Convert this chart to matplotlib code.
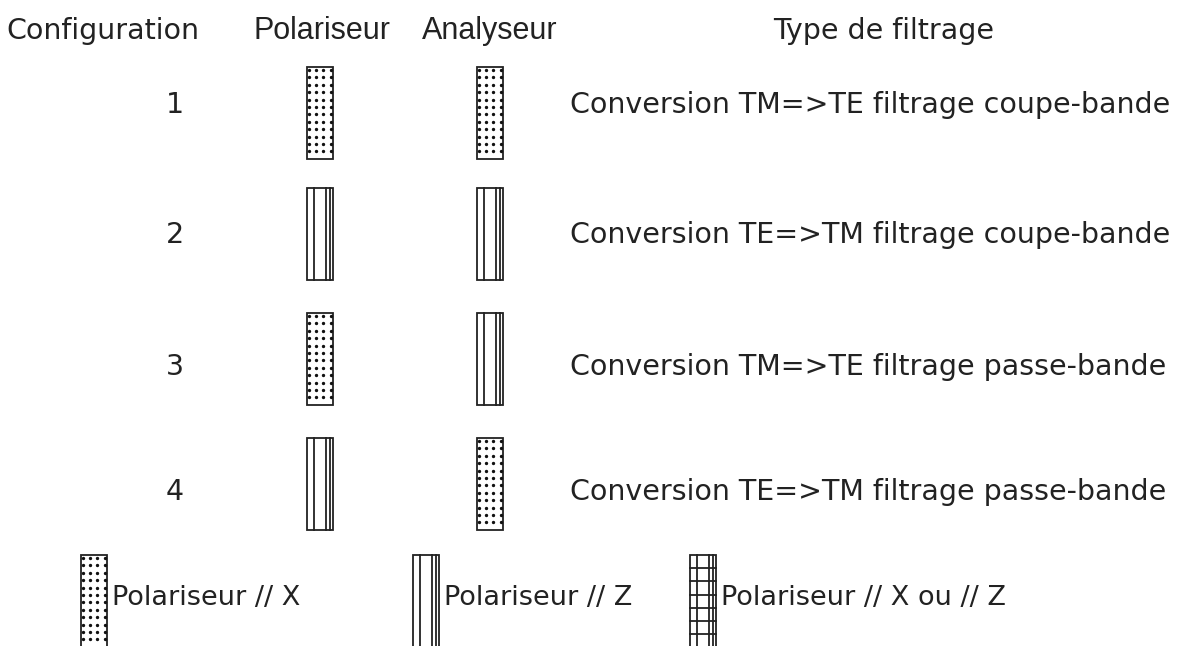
import matplotlib
matplotlib.use("Agg")
from matplotlib import pyplot as plt
from matplotlib.patches import Rectangle

plt.rcParams['font.family'] = ['DejaVu Sans']

# table content
headers = ["Configuration", "Polariseur", "Analyseur", "Type de filtrage"]
config_ids = ["1", "2", "3", "4"]
polariser = ["X", "Z", "X", "Z"]
analyser = ["X", "Z", "Z", "X"]
filtering = [
    "Conversion TM=>TE filtrage coupe-bande",
    "Conversion TE=>TM filtrage coupe-bande",
    "Conversion TM=>TE filtrage passe-bande",
    "Conversion TE=>TM filtrage passe-bande",
]
legend_kinds = ["X", "Z", "XZ"]
legend_labels = ["Polariseur // X", "Polariseur // Z", "Polariseur // X ou // Z"]

W, H = 1179, 646
fig = plt.figure(figsize=(W / 100, H / 100), dpi=100)
ax = fig.add_axes([0, 0, 1, 1])
ax.set_xlim(0, W)
ax.set_ylim(H, 0)
ax.axis("off")

BW, BH = 26, 92
INK = "#222222"


def draw_box(x, y, kind):
    # x, y = top-left corner in pixels
    ax.add_patch(Rectangle((x, y), BW, BH, fill=False, ec=INK, lw=1.3))
    if kind in ("Z", "XZ"):
        for f in (0.26, 0.74, 0.9):
            ax.plot([x + f * BW] * 2, [y, y + BH], color=INK, lw=1.3)
    if kind == "X":
        for i in range(12):
            for j in range(4):
                ax.plot(x + 1.5 + j * 7.4, y + 3 + i * 7.4, "o", ms=1.4,
                        color="#111111")
    if kind == "XZ":
        for i in range(1, 7):
            ax.plot([x, x + BW], [y + i * 13.2] * 2, color=INK, lw=1.3)


fs = 20.5
ax.text(103, 39, headers[0], ha="center", va="baseline", fontsize=fs, color=INK)
ax.text(322, 39, headers[1], ha="center", va="baseline", fontsize=22,
        family="Liberation Sans", color=INK)
ax.text(490, 39, headers[2], ha="center", va="baseline", fontsize=22,
        family="Liberation Sans", color=INK)
ax.text(884, 39, headers[3], ha="center", va="baseline", fontsize=fs, color=INK)

text_base = [113, 243, 375, 500]
box_top = [67, 188, 313, 438]
for k in range(4):
    ax.text(175, text_base[k], config_ids[k], ha="center", va="baseline",
            fontsize=fs, color=INK)
    draw_box(307, box_top[k], polariser[k])
    draw_box(477, box_top[k], analyser[k])
    ax.text(570, text_base[k], filtering[k], ha="left", va="baseline",
            fontsize=fs, color=INK)

leg_x = [81, 413, 690]
for k in range(3):
    draw_box(leg_x[k], 555, legend_kinds[k])
    ax.text(leg_x[k] + 31, 605, legend_labels[k], ha="left", va="baseline",
            fontsize=19.5, color=INK)

fig.savefig("out.png", dpi=100)
